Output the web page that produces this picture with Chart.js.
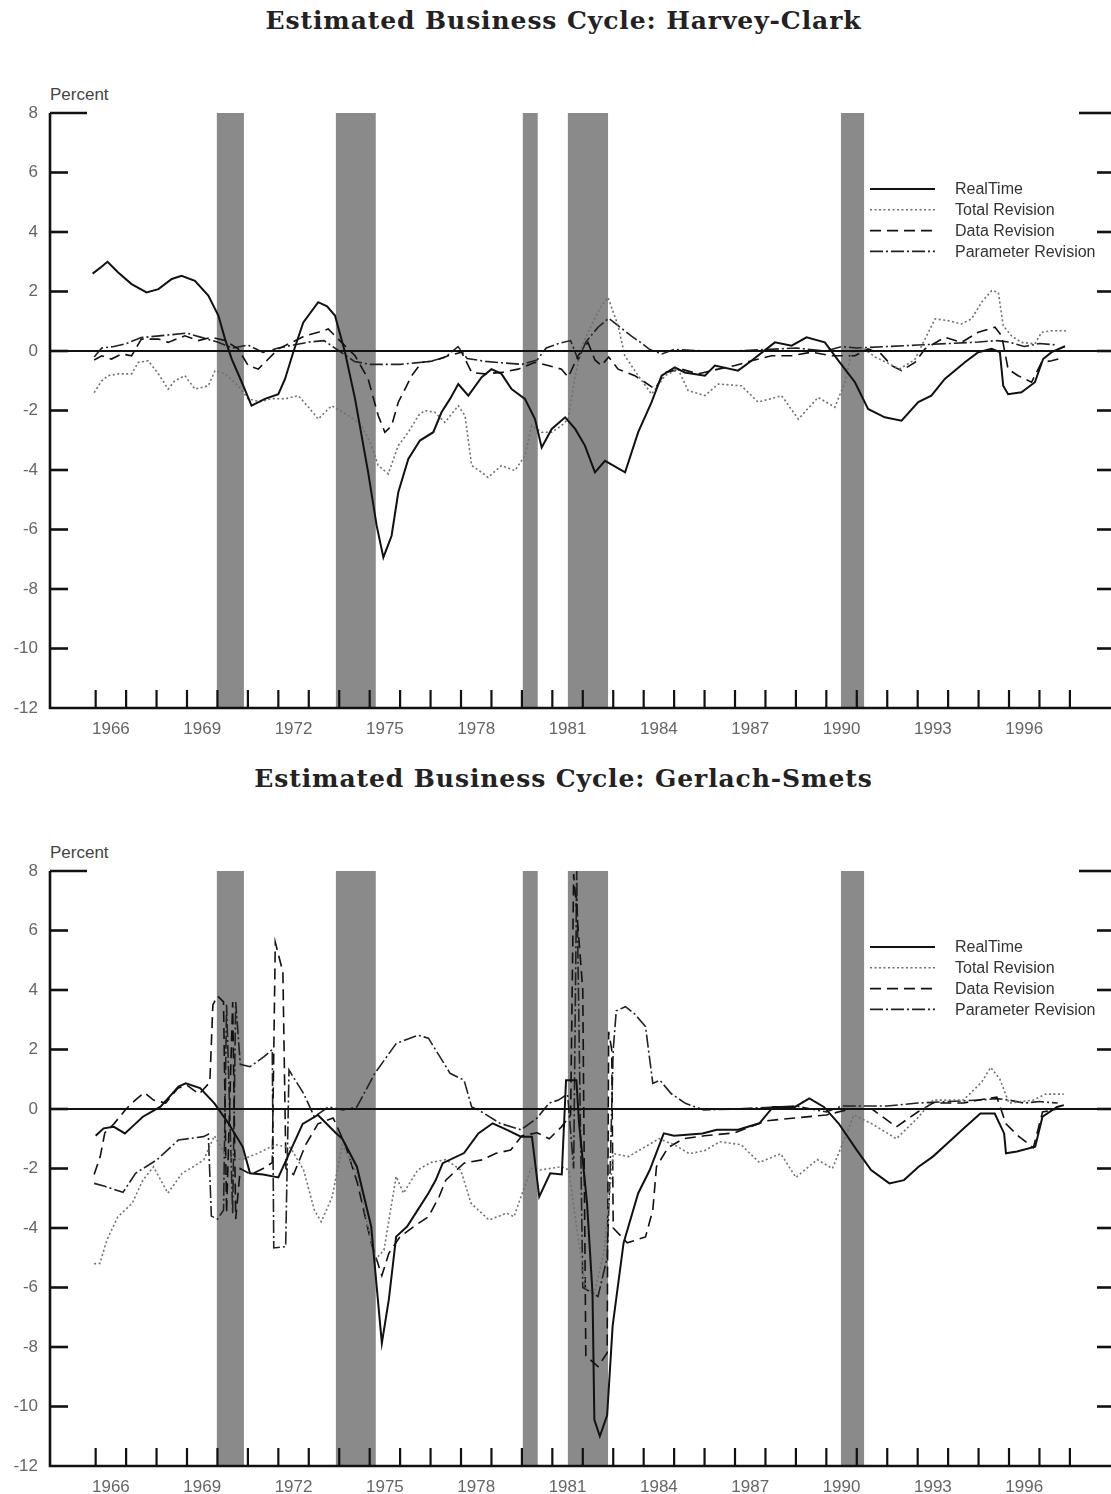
<!DOCTYPE html>
<html><head><meta charset="utf-8">
<script src="https://cdn.jsdelivr.net/npm/chart.js@4/dist/chart.umd.min.js"></script>
<style>
html,body{margin:0;padding:0;background:#fff;}
body{width:1111px;height:1494px;position:relative;overflow:hidden;}
.title{position:absolute;left:8px;width:1111px;text-align:center;font-family:"DejaVu Serif",serif;font-weight:bold;font-size:25px;letter-spacing:0.9px;color:#222;white-space:nowrap;}
.wrap{position:absolute;left:0;width:1111px;}
.pct{position:absolute;left:50px;font-family:"Liberation Sans",Arial,sans-serif;font-size:17px;color:#444;}
</style></head><body>
<div class="title" style="top:6px">Estimated Business Cycle: Harvey-Clark</div>
<div class="pct" style="top:85px">Percent</div>
<div class="wrap" style="top:80px;height:680px"><canvas id="c1"></canvas></div>
<div class="title" style="top:764px">Estimated Business Cycle: Gerlach-Smets</div>
<div class="pct" style="top:843px">Percent</div>
<div class="wrap" style="top:838px;height:656px"><canvas id="c2"></canvas></div>
<script>
// ---------- shared axis data ----------
const seriesNames = ["RealTime", "Total Revision", "Data Revision", "Parameter Revision"];
const yearLabels = [1966, 1969, 1972, 1975, 1978, 1981, 1984, 1987, 1990, 1993, 1996];
const yearTicks = [1966,1967,1968,1969,1970,1971,1972,1973,1974,1975,1976,1977,1978,1979,1980,1981,1982,1983,1984,1985,1986,1987,1988,1989,1990,1991,1992,1993,1994,1995,1996,1997,1998];
const yTickValues = [-12,-10,-8,-6,-4,-2,0,2,4,6,8];
const recessionStart = [1969.98, 1973.89, 1980.03, 1981.51, 1990.48];
const recessionEnd   = [1970.87, 1975.20, 1980.52, 1982.83, 1991.24];

// ---------- Harvey-Clark ----------
const hcRealTime = [[1965.9,2.6],[1966.15,2.8],[1966.39,3.0],[1966.74,2.64],[1967.18,2.25],[1967.67,1.97],[1968.06,2.08],[1968.5,2.42],[1968.82,2.53],[1969.26,2.36],[1969.7,1.86],[1970.03,1.19],[1970.25,0.40],[1970.47,-0.27],[1970.8,-1.05],[1971.12,-1.84],[1971.56,-1.61],[1972.0,-1.45],[1972.22,-0.94],[1972.49,-0.04],[1972.82,0.96],[1973.31,1.64],[1973.6,1.5],[1973.86,1.19],[1974.19,-0.04],[1974.52,-1.61],[1974.95,-4.08],[1975.23,-5.87],[1975.45,-6.94],[1975.72,-6.21],[1975.94,-4.75],[1976.27,-3.63],[1976.65,-3.01],[1977.09,-2.73],[1977.36,-2.06],[1977.64,-1.61],[1977.91,-1.11],[1978.24,-1.50],[1978.68,-0.88],[1979.0,-0.61],[1979.33,-0.77],[1979.66,-1.28],[1980.1,-1.61],[1980.43,-2.29],[1980.65,-3.24],[1980.98,-2.62],[1981.42,-2.23],[1981.75,-2.62],[1982.07,-3.18],[1982.4,-4.08],[1982.73,-3.69],[1983.39,-4.08],[1983.82,-2.73],[1984.26,-1.72],[1984.59,-0.83],[1985.02,-0.55],[1985.35,-0.72],[1986.01,-0.83],[1986.34,-0.49],[1987.1,-0.66],[1987.54,-0.33],[1988.31,0.29],[1988.86,0.18],[1989.35,0.46],[1989.95,0.29],[1990.44,-0.38],[1990.94,-1.05],[1991.37,-1.95],[1991.92,-2.23],[1992.47,-2.34],[1993.02,-1.72],[1993.45,-1.50],[1993.89,-0.94],[1994.55,-0.38],[1994.99,-0.04],[1995.43,0.07],[1995.7,-0.04],[1995.81,-1.17],[1995.97,-1.45],[1996.41,-1.39],[1996.85,-1.05],[1997.12,-0.27],[1997.4,-0.04],[1997.84,0.16]];
const hcTotal = [[1965.95,-1.4],[1966.2,-1.0],[1966.41,-0.83],[1966.74,-0.77],[1967.18,-0.77],[1967.4,-0.38],[1967.73,-0.33],[1968.06,-0.77],[1968.38,-1.28],[1968.6,-1.0],[1968.93,-0.83],[1969.26,-1.28],[1969.7,-1.17],[1969.92,-0.66],[1970.25,-0.77],[1970.68,-1.17],[1971.01,-1.61],[1971.4,-1.7],[1971.8,-1.6],[1972.22,-1.61],[1972.65,-1.5],[1973.0,-1.9],[1973.31,-2.29],[1973.75,-1.84],[1974.3,-2.17],[1974.74,-2.51],[1975.06,-3.18],[1975.28,-3.85],[1975.61,-4.13],[1975.94,-3.18],[1976.27,-2.73],[1976.6,-2.17],[1976.81,-2.0],[1977.14,-2.06],[1977.47,-2.4],[1977.91,-1.84],[1978.13,-2.17],[1978.35,-3.85],[1978.68,-4.08],[1978.89,-4.25],[1979.33,-3.85],[1979.77,-4.02],[1980.1,-3.52],[1980.32,-2.51],[1980.65,-2.73],[1980.98,-2.73],[1981.3,-2.51],[1981.52,-2.29],[1981.75,-0.83],[1981.97,0.18],[1982.3,0.9],[1982.6,1.5],[1982.83,1.80],[1983.16,0.85],[1983.38,-0.16],[1983.82,-0.83],[1984.26,-1.45],[1984.7,-0.83],[1985.13,-0.61],[1985.46,-1.33],[1986.01,-1.50],[1986.45,-1.11],[1987.21,-1.17],[1987.76,-1.72],[1988.53,-1.50],[1989.08,-2.29],[1989.73,-1.56],[1990.28,-1.89],[1990.61,-1.05],[1990.83,-0.04],[1991.2,0.1],[1991.6,-0.2],[1992.0,-0.4],[1992.4,-0.6],[1992.9,-0.3],[1993.24,0.40],[1993.57,1.08],[1994.0,1.02],[1994.44,0.91],[1994.77,1.08],[1995.1,1.64],[1995.43,2.03],[1995.65,1.97],[1995.81,0.85],[1996.08,0.51],[1996.41,0.29],[1996.85,0.24],[1997.07,0.63],[1997.4,0.68],[1997.89,0.68]];
const hcData = [[1965.95,-0.3],[1966.2,-0.16],[1966.52,-0.27],[1966.85,-0.1],[1967.18,-0.16],[1967.5,0.4],[1968.06,0.4],[1968.38,0.29],[1968.93,0.51],[1969.37,0.35],[1969.81,0.46],[1970.25,0.35],[1970.68,0.07],[1971.01,-0.49],[1971.34,-0.61],[1971.67,-0.27],[1972.0,0.07],[1972.44,0.29],[1972.87,0.51],[1973.31,0.63],[1973.64,0.74],[1973.97,0.4],[1974.52,-0.16],[1974.95,-0.94],[1975.28,-2.17],[1975.5,-2.73],[1975.72,-2.51],[1975.94,-1.72],[1976.16,-1.28],[1976.38,-0.83],[1976.71,-0.38],[1977.14,-0.33],[1977.58,-0.16],[1978.02,-0.04],[1978.35,-0.72],[1978.78,-0.77],[1979.33,-0.72],[1979.88,-0.61],[1980.43,-0.38],[1980.86,-0.49],[1981.3,-0.61],[1981.52,-0.88],[1981.85,-0.16],[1982.17,0.29],[1982.4,-0.3],[1982.61,-0.49],[1982.85,-0.2],[1983.16,-0.61],[1983.71,-0.83],[1984.04,-1.05],[1984.37,-1.28],[1984.7,-0.72],[1985.24,-0.61],[1985.79,-0.77],[1986.45,-0.61],[1987.0,-0.49],[1987.54,-0.33],[1988.2,-0.16],[1988.86,-0.16],[1989.52,-0.04],[1990.18,-0.16],[1990.94,-0.16],[1991.37,0.07],[1991.8,-0.1],[1992.14,-0.49],[1992.47,-0.66],[1992.91,-0.38],[1993.24,0.07],[1993.89,0.46],[1994.44,0.29],[1994.99,0.63],[1995.54,0.80],[1995.76,0.51],[1995.97,-0.61],[1996.3,-0.83],[1996.74,-1.05],[1997.07,-0.38],[1997.4,-0.33],[1997.62,-0.27]];
const hcParam = [[1965.95,-0.2],[1966.2,0.1],[1966.6,0.15],[1967.0,0.25],[1967.5,0.45],[1968.0,0.5],[1968.5,0.55],[1969.0,0.6],[1969.5,0.45],[1970.0,0.3],[1970.5,0.1],[1971.0,0.2],[1971.5,-0.05],[1972.0,0.1],[1972.5,0.2],[1973.0,0.3],[1973.5,0.35],[1974.0,0.0],[1974.5,-0.35],[1975.0,-0.45],[1975.5,-0.45],[1976.0,-0.45],[1976.5,-0.4],[1977.0,-0.35],[1977.5,-0.2],[1977.9,0.15],[1978.2,-0.25],[1978.8,-0.35],[1979.4,-0.4],[1980.0,-0.45],[1980.5,-0.3],[1980.8,0.1],[1981.2,0.25],[1981.6,0.35],[1981.85,-0.3],[1982.1,0.3],[1982.5,0.8],[1982.85,1.1],[1983.16,0.85],[1983.6,0.5],[1983.95,0.25],[1984.2,0.05],[1984.6,-0.1],[1985.0,0.05],[1986.0,0.0],[1987.0,0.0],[1988.0,0.05],[1989.0,0.1],[1990.0,0.0],[1990.5,0.15],[1991.0,0.1],[1992.0,0.15],[1993.0,0.2],[1994.0,0.25],[1995.0,0.3],[1995.6,0.35],[1996.0,0.3],[1996.5,0.15],[1997.0,0.25],[1997.6,0.2]];

// ---------- Gerlach-Smets ----------
const gsRealTime = [[1966.0,-0.9],[1966.26,-0.65],[1966.6,-0.6],[1966.96,-0.82],[1967.3,-0.5],[1967.55,-0.26],[1968.13,0.08],[1968.5,0.5],[1968.72,0.75],[1968.96,0.86],[1969.43,0.70],[1969.9,0.19],[1970.36,-0.48],[1970.83,-1.27],[1971.07,-2.16],[1971.5,-2.2],[1972.0,-2.3],[1972.4,-1.4],[1972.8,-0.5],[1973.3,-0.2],[1973.88,-0.8],[1974.1,-1.0],[1974.58,-1.94],[1975.05,-3.95],[1975.4,-7.87],[1975.63,-6.4],[1975.87,-4.29],[1976.23,-3.95],[1976.58,-3.39],[1976.93,-2.83],[1977.17,-2.39],[1977.4,-1.82],[1978.1,-1.48],[1978.57,-0.82],[1979.04,-0.48],[1979.51,-0.7],[1979.97,-0.93],[1980.33,-0.93],[1980.57,-2.95],[1980.93,-2.16],[1981.31,-2.2],[1981.45,0.97],[1981.79,0.97],[1981.88,-0.5],[1982.14,-3.17],[1982.32,-6.2],[1982.38,-10.45],[1982.56,-11.0],[1982.8,-10.3],[1982.98,-7.3],[1983.34,-4.5],[1983.82,-2.83],[1984.2,-2.05],[1984.66,-0.82],[1985.0,-0.9],[1985.93,-0.82],[1986.4,-0.7],[1987.1,-0.7],[1987.8,-0.48],[1988.25,0.07],[1988.97,0.07],[1989.44,0.36],[1989.92,0.07],[1990.4,-0.48],[1991.0,-1.38],[1991.47,-2.05],[1992.07,-2.5],[1992.55,-2.39],[1993.03,-1.94],[1993.5,-1.6],[1993.98,-1.15],[1994.58,-0.59],[1995.06,-0.15],[1995.53,-0.15],[1995.84,-0.82],[1995.9,-1.49],[1996.26,-1.43],[1996.86,-1.27],[1997.1,-0.26],[1997.58,0.07],[1997.8,0.13]];
const gsTotal = [[1965.95,-5.2],[1966.14,-5.19],[1966.37,-4.4],[1966.73,-3.62],[1967.2,-3.17],[1967.55,-2.39],[1967.9,-1.94],[1968.37,-2.83],[1968.84,-2.16],[1969.2,-1.94],[1969.55,-1.71],[1969.9,-0.9],[1970.3,-1.6],[1970.8,-1.7],[1971.3,-1.5],[1971.9,-1.2],[1972.4,-1.3],[1972.83,-2.05],[1973.18,-3.39],[1973.41,-3.79],[1973.77,-2.95],[1974.1,-1.2],[1974.6,-2.2],[1975.17,-5.08],[1975.47,-4.74],[1975.87,-2.27],[1976.11,-2.83],[1976.58,-2.05],[1977.0,-1.8],[1977.5,-1.7],[1977.99,-2.05],[1978.33,-3.17],[1978.92,-3.73],[1979.5,-3.5],[1979.74,-3.62],[1979.97,-2.95],[1980.3,-2.0],[1980.6,-2.05],[1981.3,-1.94],[1981.54,-2.05],[1981.8,-4.0],[1982.1,-6.0],[1982.38,-6.2],[1982.7,-4.8],[1983.0,-1.5],[1983.5,-1.6],[1984.0,-1.3],[1984.5,-1.0],[1985.0,-1.2],[1985.5,-1.5],[1986.0,-1.4],[1986.5,-1.1],[1987.2,-1.2],[1987.8,-1.8],[1988.5,-1.5],[1989.0,-2.3],[1989.7,-1.7],[1990.2,-2.0],[1990.6,-1.0],[1990.9,-0.2],[1991.5,-0.5],[1992.3,-1.0],[1993.0,-0.3],[1993.5,0.3],[1994.5,0.3],[1995.1,0.9],[1995.4,1.4],[1995.7,1.0],[1996.0,0.2],[1996.8,0.3],[1997.2,0.5],[1997.8,0.5]];
const gsData = [[1965.95,-2.2],[1966.15,-1.6],[1966.3,-0.8],[1966.6,-0.5],[1967.0,0.0],[1967.3,0.3],[1967.6,0.55],[1967.9,0.3],[1968.3,0.2],[1968.7,0.7],[1969.0,0.8],[1969.4,0.5],[1969.75,0.9],[1969.85,3.5],[1970.0,3.8],[1970.2,3.6],[1970.3,-3.5],[1970.5,3.6],[1970.6,-3.7],[1970.75,-2.0],[1971.1,-2.2],[1971.5,-2.0],[1971.8,-1.8],[1971.9,5.6],[1972.0,5.2],[1972.15,4.6],[1972.25,-2.0],[1972.5,-2.2],[1972.9,-1.2],[1973.3,-0.5],[1973.8,-0.3],[1974.2,-1.2],[1974.6,-2.5],[1975.05,-4.5],[1975.4,-5.6],[1975.63,-4.85],[1975.99,-4.3],[1976.45,-3.95],[1976.93,-3.62],[1977.28,-2.95],[1977.5,-2.39],[1978.1,-1.82],[1978.7,-1.71],[1979.15,-1.49],[1979.63,-1.38],[1980.0,-0.9],[1980.5,-0.8],[1980.9,-1.0],[1981.3,-0.6],[1981.6,-0.2],[1981.7,7.9],[1981.85,6.0],[1982.0,4.0],[1982.1,-8.3],[1982.5,-8.66],[1982.8,-8.2],[1982.85,2.6],[1982.95,2.0],[1983.0,-4.0],[1983.46,-4.5],[1984.06,-4.3],[1984.3,-3.4],[1984.42,-1.94],[1984.8,-1.3],[1985.3,-1.0],[1986.0,-0.9],[1987.0,-0.8],[1988.0,-0.4],[1989.0,-0.3],[1990.0,-0.2],[1990.8,0.0],[1991.5,0.0],[1992.3,-0.6],[1993.0,-0.1],[1993.5,0.2],[1994.5,0.2],[1995.0,0.3],[1995.6,0.4],[1995.9,-0.5],[1996.3,-0.9],[1996.8,-1.3],[1997.1,-0.1],[1997.6,0.0]];
const gsParam = [[1965.95,-2.5],[1966.3,-2.6],[1966.9,-2.8],[1967.31,-2.16],[1968.01,-1.71],[1968.72,-1.04],[1969.54,-0.93],[1969.7,-0.85],[1969.8,-3.6],[1970.0,-3.7],[1970.2,-3.4],[1970.3,3.5],[1970.5,-3.5],[1970.6,3.6],[1970.75,1.5],[1971.07,1.42],[1971.53,1.76],[1971.8,2.0],[1971.85,-4.67],[1972.24,-4.63],[1972.35,1.31],[1972.83,0.52],[1973.18,-0.26],[1973.65,0.07],[1974.12,-0.03],[1974.58,0.07],[1975.17,1.2],[1975.87,2.2],[1976.58,2.48],[1976.93,2.38],[1977.64,1.2],[1978.1,0.97],[1978.35,0.07],[1978.57,-0.03],[1979.28,-0.48],[1979.97,-0.7],[1980.5,-0.3],[1980.9,0.2],[1981.2,0.3],[1981.5,0.5],[1981.7,-2.0],[1981.8,8.0],[1982.0,-6.0],[1982.5,-6.3],[1982.8,-5.0],[1982.9,-2.0],[1983.0,2.0],[1983.1,3.3],[1983.4,3.44],[1983.7,3.2],[1984.06,2.77],[1984.3,0.86],[1984.53,0.97],[1984.9,0.52],[1985.37,0.19],[1985.97,-0.03],[1987.0,0.0],[1988.0,0.05],[1989.0,0.1],[1990.0,-0.1],[1990.5,0.1],[1991.0,0.1],[1992.0,0.1],[1993.0,0.2],[1994.0,0.25],[1995.0,0.3],[1995.6,0.35],[1996.0,0.3],[1996.5,0.2],[1997.0,0.25],[1997.6,0.2]];

// ---------- styles ----------
const styles = [
  {color:'#111', width:2.0, dash:[]},
  {color:'#707070', width:1.6, dash:[2,2.5]},
  {color:'#111', width:1.6, dash:[11,6]},
  {color:'#222', width:1.6, dash:[13,3,2,3]}
];
const FONT = '"Liberation Sans", Arial, sans-serif';

const frame = {
  id: 'frame',
  beforeDatasetsDraw(chart) {
    const {ctx, chartArea: a, scales: {x, y}} = chart;
    ctx.save();
    ctx.fillStyle = '#8a8a8a';
    for (let i = 0; i < recessionStart.length; i++) {
      const x0 = x.getPixelForValue(recessionStart[i]);
      const x1 = x.getPixelForValue(recessionEnd[i]);
      ctx.fillRect(x0, a.top, x1 - x0, a.bottom - a.top);
    }
    ctx.restore();
  },
  afterDatasetsDraw(chart) {
    const {ctx, chartArea: a, scales: {x, y}} = chart;
    ctx.save();
    ctx.strokeStyle = '#111';
    ctx.setLineDash([]);
    ctx.lineWidth = 2;
    const y0 = y.getPixelForValue(0);
    ctx.beginPath(); ctx.moveTo(a.left, y0); ctx.lineTo(a.right, y0); ctx.stroke();
    ctx.lineWidth = 2.6;
    ctx.beginPath(); ctx.moveTo(a.left, a.top); ctx.lineTo(a.left, a.bottom); ctx.lineTo(a.right, a.bottom); ctx.stroke();
    yTickValues.forEach(v => {
      if (v === -12) return;
      const py = y.getPixelForValue(v);
      const long = v === 8;
      ctx.beginPath(); ctx.moveTo(a.left, py); ctx.lineTo(a.left + (long ? 37 : 18), py); ctx.stroke();
      ctx.beginPath(); ctx.moveTo(a.right, py); ctx.lineTo(a.right - (long ? 32 : 14), py); ctx.stroke();
    });
    ctx.lineWidth = 2.2;
    yearTicks.forEach(v => {
      const px = x.getPixelForValue(v);
      ctx.beginPath(); ctx.moveTo(px, a.bottom); ctx.lineTo(px, a.bottom - 18); ctx.stroke();
    });
    const lx0 = a.left + 820, lx1 = a.left + 885, tx = a.left + 905;
    let ly = a.top + 76;
    chart.data.datasets.forEach(ds => {
      ctx.strokeStyle = ds.borderColor; ctx.lineWidth = ds.borderWidth;
      ctx.setLineDash(ds.borderDash || []);
      ctx.beginPath(); ctx.moveTo(lx0, ly); ctx.lineTo(lx1, ly); ctx.stroke();
      ctx.setLineDash([]);
      ctx.fillStyle = '#333'; ctx.font = '16px ' + FONT; ctx.textBaseline = 'middle'; ctx.textAlign = 'left';
      ctx.fillText(ds.label, tx, ly + 1);
      ly += 20.8;
    });
    ctx.restore();
  }
};

function makeChart(id, series, axisHeight) {
  const datasets = series.map((s, i) => ({
    label: seriesNames[i],
    data: s.map(p => ({x: p[0], y: p[1]})),
    borderColor: styles[i].color,
    borderWidth: styles[i].width,
    borderDash: styles[i].dash,
    pointRadius: 0,
    tension: 0,
    fill: false
  }));
  return new Chart(document.getElementById(id), {
    type: 'line',
    data: {datasets},
    plugins: [frame],
    options: {
      responsive: true, maintainAspectRatio: false, animation: false,
      layout: {padding: {top: 33, left: 0, right: 0, bottom: 0}},
      plugins: {legend: {display: false}, tooltip: {enabled: false}},
      scales: {
        x: {
          type: 'linear', min: 1964.5, max: 1999.35,
          grid: {display: false}, border: {display: false},
          afterBuildTicks: sc => { sc.ticks = yearLabels.map(v => ({value: v + 0.5})); },
          afterFit: sc => { sc.height = axisHeight; },
          ticks: {autoSkip: false, maxRotation: 0, padding: 3, color: '#666', font: {family: FONT, size: 17},
                  callback: v => String(Math.round(v - 0.5))}
        },
        y: {
          min: -12, max: 8,
          grid: {display: false}, border: {display: false},
          afterBuildTicks: sc => { sc.ticks = yTickValues.map(v => ({value: v})); },
          afterFit: sc => { sc.width = 50; },
          ticks: {padding: 4, color: '#666', font: {family: FONT, size: 17}}
        }
      }
    }
  });
}

makeChart('c1', [hcRealTime, hcTotal, hcData, hcParam], 52);
makeChart('c2', [gsRealTime, gsTotal, gsData, gsParam], 28);
</script>
</body></html>
